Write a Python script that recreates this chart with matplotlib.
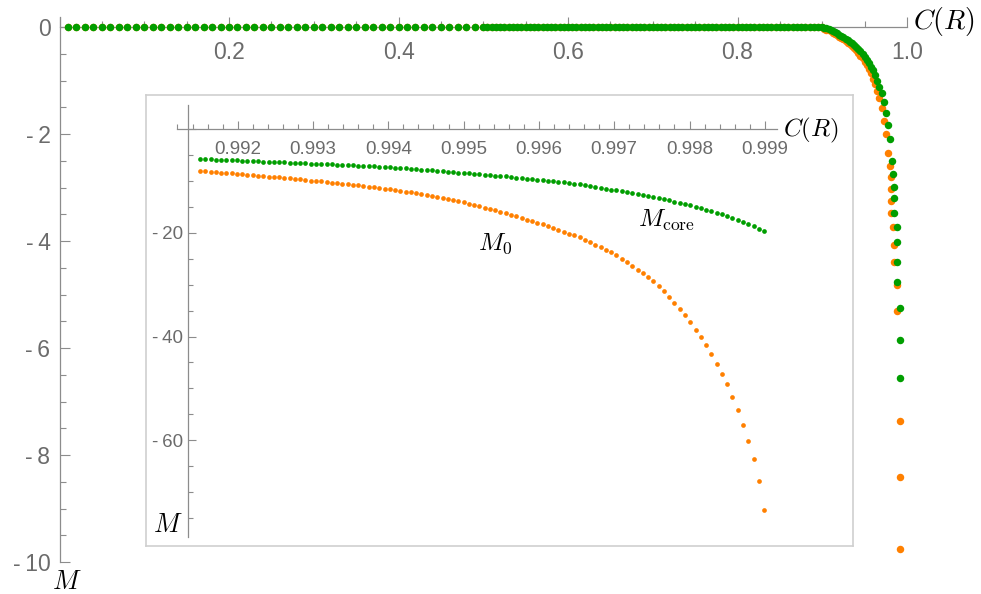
import matplotlib
matplotlib.use('Agg')
import matplotlib.pyplot as plt
from matplotlib.ticker import MultipleLocator, FuncFormatter

plt.rcParams['mathtext.fontset'] = 'cm'
plt.rcParams['font.family'] = ['Liberation Sans', 'DejaVu Sans']

GREEN = '#009e00'
ORANGE = '#ff8000'
AXIS = '#8c8c8c'
TICKTXT = '#6b6b6b'

# ---- main plot data --------------------------------------------------
# plateau, M = 0 for both quantities
C_plateau = [0.01, 0.02, 0.03, 0.04, 0.05, 0.06, 0.07, 0.08, 0.09, 0.10,
             0.11, 0.12, 0.13, 0.14, 0.15, 0.16, 0.17, 0.18, 0.19, 0.20,
             0.21, 0.22, 0.23, 0.24, 0.25, 0.26, 0.27, 0.28, 0.29, 0.30,
             0.31, 0.32, 0.33, 0.34, 0.35, 0.36, 0.37, 0.38, 0.39, 0.40,
             0.41, 0.42, 0.43, 0.44, 0.45, 0.46, 0.47, 0.48, 0.49,
             0.500, 0.505, 0.510, 0.515, 0.520, 0.525, 0.530, 0.535, 0.540, 0.545,
             0.550, 0.555, 0.560, 0.565, 0.570, 0.575, 0.580, 0.585, 0.590, 0.595,
             0.600, 0.605, 0.610, 0.615, 0.620, 0.625, 0.630, 0.635, 0.640, 0.645,
             0.650, 0.655, 0.660, 0.665, 0.670, 0.675, 0.680, 0.685, 0.690, 0.695,
             0.700, 0.705, 0.710, 0.715, 0.720, 0.725, 0.730, 0.735, 0.740, 0.745,
             0.750, 0.755, 0.760, 0.765, 0.770, 0.775, 0.780, 0.785, 0.790, 0.795,
             0.800, 0.805, 0.810, 0.815, 0.820, 0.825, 0.830, 0.835, 0.840, 0.845,
             0.850, 0.855, 0.860, 0.865, 0.870, 0.875, 0.880, 0.885, 0.890, 0.895,
             0.900]
M_plateau = [0.0] * len(C_plateau)

# knee towards C -> 1
C_knee = [0.9025, 0.905, 0.9075, 0.91, 0.9125, 0.915, 0.9175, 0.92,
          0.9225, 0.925, 0.9275, 0.93, 0.9325, 0.935, 0.9375, 0.94,
          0.9425, 0.945, 0.9475, 0.95, 0.9525, 0.955, 0.9575, 0.96,
          0.9625, 0.965, 0.9675, 0.97, 0.9725, 0.975, 0.9775, 0.98]
Mcore_knee = [-0.01, -0.02, -0.035, -0.05, -0.07, -0.09, -0.115, -0.14,
              -0.165, -0.19, -0.215, -0.24, -0.27, -0.30, -0.335, -0.37,
              -0.41, -0.45, -0.50, -0.55, -0.61, -0.67, -0.74, -0.81,
              -0.90, -1.00, -1.11, -1.24, -1.40, -1.60, -1.83, -2.10]
M0_knee = [-0.03, -0.045, -0.06, -0.08, -0.10, -0.13, -0.155, -0.18,
           -0.205, -0.23, -0.26, -0.29, -0.32, -0.355, -0.395, -0.435,
           -0.48, -0.53, -0.585, -0.645, -0.71, -0.78, -0.86, -0.96,
           -1.07, -1.19, -1.33, -1.52, -1.75, -2.00, -2.36, -2.60]

# last points of the steep drop
C_core_tail = [0.9825, 0.9835, 0.9847, 0.9849, 0.9851, 0.9880, 0.9882,
               0.9884, 0.9886, 0.9915, 0.9917, 0.9918]
Mcore_tail = [-2.50, -2.75, -2.99, -3.20, -3.47, -3.74, -4.02,
              -4.39, -4.77, -5.25, -5.85, -6.56]
C_0_tail = [0.9808, 0.9810, 0.9812, 0.9814, 0.9835, 0.9845, 0.9847,
            0.9880, 0.9882, 0.9917, 0.9918, 0.9918]
M0_tail = [-2.80, -3.03, -3.25, -3.47, -3.74, -4.07, -4.39,
           -4.82, -5.31, -7.36, -8.41, -9.76]

# ---- inset data --------------------------------------------------------
C_inset = [0.99150, 0.99157, 0.99164, 0.99171, 0.99178, 0.99185, 0.99192, 0.99199, 0.99206, 0.99213,
           0.99220, 0.99227, 0.99234, 0.99241, 0.99248, 0.99255, 0.99262, 0.99269, 0.99276, 0.99283,
           0.99290, 0.99297, 0.99304, 0.99311, 0.99318, 0.99325, 0.99332, 0.99339, 0.99346, 0.99353,
           0.99360, 0.99367, 0.99374, 0.99381, 0.99388, 0.99395, 0.99402, 0.99409, 0.99416, 0.99423,
           0.99430, 0.99437, 0.99444, 0.99451, 0.99458, 0.99465, 0.99472, 0.99479, 0.99486, 0.99493,
           0.99500, 0.99507, 0.99514, 0.99521, 0.99528, 0.99535, 0.99542, 0.99549, 0.99556, 0.99563,
           0.99570, 0.99577, 0.99584, 0.99591, 0.99598, 0.99605, 0.99612, 0.99619, 0.99626, 0.99633,
           0.99640, 0.99647, 0.99654, 0.99661, 0.99668, 0.99675, 0.99682, 0.99689, 0.99696, 0.99703,
           0.99710, 0.99717, 0.99724, 0.99731, 0.99738, 0.99745, 0.99752, 0.99759, 0.99766, 0.99773,
           0.99780, 0.99787, 0.99794, 0.99801, 0.99808, 0.99815, 0.99822, 0.99829, 0.99836, 0.99843,
           0.99850, 0.99857, 0.99864, 0.99871, 0.99878, 0.99885, 0.99892, 0.99899]
Mcore_inset = [-5.70, -5.74, -5.78, -5.83, -5.87, -5.91, -5.95, -5.99, -6.04, -6.08,
               -6.12, -6.16, -6.20, -6.25, -6.29, -6.33, -6.37, -6.41, -6.46, -6.50,
               -6.54, -6.58, -6.62, -6.67, -6.71, -6.75, -6.79, -6.83, -6.88, -6.92,
               -6.98, -7.04, -7.09, -7.15, -7.20, -7.26, -7.32, -7.39, -7.46, -7.53,
               -7.60, -7.67, -7.74, -7.81, -7.90, -7.98, -8.06, -8.15, -8.23, -8.32,
               -8.40, -8.48, -8.57, -8.65, -8.74, -8.82, -8.90, -8.99, -9.08, -9.18,
               -9.28, -9.38, -9.48, -9.57, -9.67, -9.78, -9.89, -10.00, -10.12, -10.23,
               -10.34, -10.45, -10.60, -10.76, -10.93, -11.10, -11.27, -11.44, -11.60, -11.77,
               -11.94, -12.11, -12.28, -12.44, -12.61, -12.78, -12.97, -13.21, -13.44, -13.68,
               -13.92, -14.16, -14.40, -14.64, -14.94, -15.23, -15.52, -15.82, -16.11, -16.41,
               -16.70, -17.11, -17.51, -17.92, -18.32, -18.73, -19.14, -19.54]
M0_inset = [-8.00, -8.08, -8.17, -8.25, -8.34, -8.42, -8.50, -8.59, -8.67, -8.76,
            -8.84, -8.92, -9.01, -9.09, -9.18, -9.27, -9.37, -9.47, -9.56, -9.66,
            -9.76, -9.86, -9.96, -10.05, -10.15, -10.25, -10.35, -10.45, -10.54, -10.65,
            -10.78, -10.91, -11.03, -11.16, -11.28, -11.41, -11.54, -11.70, -11.85, -12.01,
            -12.16, -12.31, -12.47, -12.63, -12.84, -13.05, -13.26, -13.47, -13.68, -13.89,
            -14.10, -14.35, -14.60, -14.86, -15.11, -15.36, -15.61, -15.86, -16.16, -16.47,
            -16.78, -17.09, -17.40, -17.70, -18.01, -18.35, -18.70, -19.05, -19.40, -19.75,
            -20.10, -20.45, -20.87, -21.35, -21.82, -22.30, -22.78, -23.25, -23.73, -24.30,
            -25.00, -25.70, -26.40, -27.10, -27.80, -28.50, -29.29, -30.30, -31.30, -32.31,
            -33.48, -34.71, -35.94, -37.21, -38.70, -40.18, -41.66, -43.40, -45.34, -47.27,
            -49.20, -51.67, -54.15, -57.10, -60.13, -63.75, -67.90, -73.52]


def dash_minus(v, pos):
    if abs(v) < 1e-9:
        return '0'
    s = '%g' % abs(v)
    return '-\u2009' + s if v < 0 else s


W, H = 981, 594
fig = plt.figure(figsize=(W / 100, H / 100), dpi=100)

# ---- main axes ----------------------------------------------------------
ax = fig.add_axes([59.5 / W, 1 - 562 / H, (907 - 59.5) / W, (562 - 17) / H])
ax.set_xlim(0, 1.0)
ax.set_ylim(-10, 0.19)
ax.patch.set_alpha(0)
for side in ('top', 'right'):
    ax.spines[side].set_visible(False)
ax.spines['bottom'].set_position(('data', 0))
for side in ('left', 'bottom'):
    ax.spines[side].set_color(AXIS)
    ax.spines[side].set_linewidth(0.9)

ax.xaxis.set_major_locator(MultipleLocator(0.2))
ax.xaxis.set_minor_locator(MultipleLocator(0.05))
ax.yaxis.set_major_locator(MultipleLocator(2))
ax.yaxis.set_minor_locator(MultipleLocator(0.5))
ax.xaxis.set_major_formatter(FuncFormatter(lambda v, p: '' if v < 1e-9 else '%.1f' % v))
ax.yaxis.set_major_formatter(FuncFormatter(dash_minus))
ax.tick_params(which='both', direction='in', color=AXIS, width=0.8,
               labelcolor=TICKTXT, labelsize=16.5)
ax.tick_params(which='major', length=7.5)
ax.tick_params(which='minor', length=4.5)
ax.tick_params(axis='x', which='major', pad=10)
ax.tick_params(axis='y', which='major', pad=6.5)

ms_main = 29
ax.scatter(C_plateau, M_plateau, s=ms_main, color=ORANGE, lw=0, zorder=3, clip_on=False)
ax.scatter(C_knee, M0_knee, s=ms_main, color=ORANGE, lw=0, zorder=3, clip_on=False)
ax.scatter(C_0_tail, M0_tail, s=ms_main, color=ORANGE, lw=0, zorder=3, clip_on=False)
ax.scatter(C_plateau, M_plateau, s=ms_main, color=GREEN, lw=0, zorder=4, clip_on=False)
ax.scatter(C_knee, Mcore_knee, s=ms_main, color=GREEN, lw=0, zorder=4, clip_on=False)
ax.scatter(C_core_tail, Mcore_tail, s=ms_main, color=GREEN, lw=0, zorder=4, clip_on=False)

fig.text(913 / W, 1 - 22 / H, r'$C(R)$', fontsize=20, ha='left', va='center')
fig.text(67 / W, 1 - 582 / H, r'$M$', fontsize=19, ha='center', va='center')

# ---- inset frame --------------------------------------------------------
frame = fig.add_axes([146 / W, 1 - 546 / H, (853 - 146) / W, (546 - 95) / H])
frame.set_xticks([])
frame.set_yticks([])
for sp in frame.spines.values():
    sp.set_color('#cfcfcf')
    sp.set_linewidth(1.2)

# ---- inset axes ---------------------------------------------------------
ins = fig.add_axes([177 / W, 1 - 537 / H, 600 / W, 432 / H])
ins.set_xlim(0.991194, 0.999162)
ins.set_ylim(-78.74, 4.73)
ins.patch.set_alpha(0)
for side in ('top', 'right'):
    ins.spines[side].set_visible(False)
ins.spines['left'].set_position(('data', 0.99134))
ins.spines['bottom'].set_position(('data', 0))
for side in ('left', 'bottom'):
    ins.spines[side].set_color(AXIS)
    ins.spines[side].set_linewidth(0.9)

ins.xaxis.set_major_locator(MultipleLocator(0.001))
ins.xaxis.set_minor_locator(MultipleLocator(0.0002))
ins.yaxis.set_major_locator(MultipleLocator(20))
ins.yaxis.set_minor_locator(MultipleLocator(5))
ins.xaxis.set_major_formatter(FuncFormatter(lambda v, p: '%.3f' % v))
ins.yaxis.set_major_formatter(FuncFormatter(lambda v, p: '' if abs(v) < 1e-9 else dash_minus(v, p)))
ins.tick_params(which='both', direction='in', color=AXIS, width=0.8,
                labelcolor=TICKTXT, labelsize=13.5)
ins.tick_params(which='major', length=6)
ins.tick_params(which='minor', length=3.5)
ins.tick_params(axis='x', which='major', pad=8.5)
ins.tick_params(axis='y', which='major', pad=3.5)

ms_in = 11.5
ins.scatter(C_inset, M0_inset, s=ms_in, color=ORANGE, lw=0, zorder=3, clip_on=False)
ins.scatter(C_inset, Mcore_inset, s=ms_in, color=GREEN, lw=0, zorder=4, clip_on=False)

fig.text(783 / W, 1 - 130 / H, r'$C(R)$', fontsize=18, ha='left', va='center')
fig.text(168 / W, 1 - 525 / H, r'$M$', fontsize=19, ha='center', va='center')
fig.text(478 / W, 1 - 250 / H, r'$M_0$', fontsize=18, ha='left', va='baseline')
fig.text(638 / W, 1 - 227 / H, r'$M_{\rm core}$', fontsize=18, ha='left', va='baseline')

fig.savefig('out.png', dpi=100)
